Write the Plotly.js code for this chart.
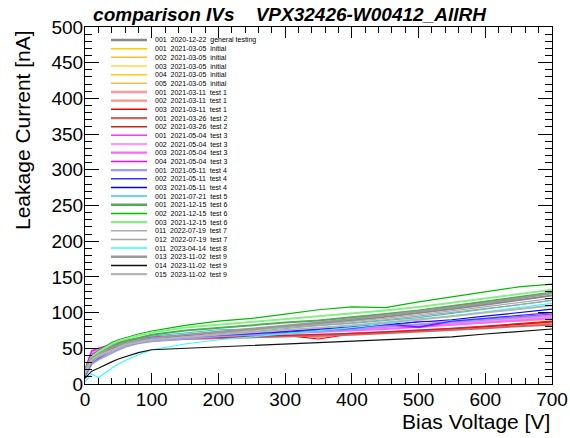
<!DOCTYPE html>
<html><head><meta charset="utf-8">
<script src="https://cdn.plot.ly/plotly-3.0.1.min.js"></script>
<style>html,body{margin:0;padding:0;background:#fff}#chart{width:570px;height:438px}</style>
</head><body><div id="chart"></div>
<script>
// Bias voltage grid [V]
const voltage = [0,10,20,30,40,50,60,80,100,150,200,250,300,350,400,450,500,550,600,650,700];

// Legend labels
const sensorIds = ["001","001","002","003","004","005","001","002","003","001","002","001","002","003","004","001","002","003","001","001","002","003","011","012","011","013","014","015"];
const testDates = ["2020-12-22","2021-03-05","2021-03-05","2021-03-05","2021-03-05","2021-03-05","2021-03-11","2021-03-11","2021-03-11","2021-03-26","2021-03-26","2021-05-04","2021-05-04","2021-05-04","2021-05-04","2021-05-11","2021-05-11","2021-05-11","2021-07-21","2021-12-15","2021-12-15","2021-12-15","2022-07-19","2022-07-19","2023-04-14","2023-11-02","2023-11-02","2023-11-02"];
const testNames = ["general testing","initial","initial","initial","initial","initial","test 1","test 1","test 1","test 2","test 2","test 3","test 3","test 3","test 3","test 4","test 4","test 4","test 5","test 6","test 6","test 6","test 7","test 7","test 8","test 9","test 9","test 9"];

// Leakage current [nA], one array per measurement
const gen001   = [15,33,40,45,49,53,56,60,63,68,72,76,80,84,89,94,99,105,111,117,124];
const ini001   = [14,36,43,48,52,55,58,62,64,67,69,71,73,75,77,80,83,85,88,91,93];
const ini002   = [12,34,41,46,50,54,57,61,63,66,68,70,72,74,76,79,82,84,87,89,92];
const ini003   = [16,38,44,49,53,56,59,63,65,68,70,72,74,76,78,81,84,86,89,92,94];
const ini004   = [13,35,42,47,51,55,58,62,64,66,68,70,71,73,75,78,80,83,86,88,90];
const ini005   = [15,37,43,48,52,56,59,62,65,67,69,71,73,75,77,79,82,85,87,90,92];
const t1_001   = [12,33,40,45,49,53,56,60,62,64,65,66,67,68,70,72,74,76,79,82,85];
const t1_002   = [14,35,42,47,51,54,57,61,63,65,66,67,68,66,71,73,75,77,80,83,86];
const t1_003   = [13,36,43,48,52,55,58,61,63,64,65,66,68,63,70,72,74,77,80,83,87];
const t2_001   = [11,32,39,44,48,52,55,59,61,63,64,65,67,68,69,71,73,76,78,81,83];
const t2_002   = [12,34,41,46,50,53,56,60,62,64,66,67,68,69,71,73,75,78,81,84,88];
const t3_001   = [20,47,50,53,56,58,60,63,65,67,69,71,73,75,77,80,88,86,90,94,97];
const t3_002   = [18,44,48,51,54,57,59,62,64,66,68,69,71,73,75,78,81,84,87,90,93];
const t3_003   = [17,42,46,50,53,56,58,61,63,65,67,69,70,72,74,77,80,83,86,89,92];
const t3_004   = [21,46,50,53,56,59,61,64,66,68,70,72,74,76,79,82,79,87,91,95,98];
const t4_001   = [10,28,34,39,44,48,52,57,60,64,67,69,71,74,77,80,83,86,89,92,96];
const t4_002   = [11,30,36,42,47,51,54,59,62,66,68,70,72,75,78,84,80,88,92,96,100];
const t4_003   = [12,31,38,43,48,52,55,60,63,67,69,71,74,77,80,83,86,90,95,100,105];
const t5_001   = [15,35,42,47,52,56,59,64,67,72,76,77,79,82,85,89,93,99,105,111,117];
const t6_001   = [15,36,43,48,53,57,60,65,69,75,79,82,86,89,93,98,103,109,115,122,128];
const t6_002   = [20,40,47,53,58,62,65,70,74,82,88,92,98,104,108,107,115,122,128,136,140];
const t6_003   = [18,38,45,51,56,60,63,68,72,79,83,87,91,94,98,103,108,114,120,127,132];
const t7_011   = [12,30,37,42,46,50,53,58,62,67,71,75,79,83,87,92,97,102,108,114,120];
const t7_012   = [14,32,38,43,47,51,54,58,61,65,69,73,77,81,85,90,95,100,106,111,117];
const t8_011   = [3,14,9,16,22,28,33,41,48,56,62,66,70,74,79,84,89,95,101,107,113];
const t9_013   = [18,36,42,47,51,54,57,61,64,69,73,77,82,86,91,96,101,107,113,120,127];
const t9_014   = [8,18,22,27,31,35,38,44,48,50,52,53,55,57,59,61,63,66,70,74,77];
const t9_015   = [16,34,40,44,48,52,55,59,62,66,69,72,75,78,82,86,90,95,100,105,110];

const currents = [gen001,ini001,ini002,ini003,ini004,ini005,t1_001,t1_002,t1_003,t2_001,t2_002,
  t3_001,t3_002,t3_003,t3_004,t4_001,t4_002,t4_003,t5_001,t6_001,t6_002,t6_003,t7_011,t7_012,t8_011,t9_013,t9_014,t9_015];

const lineColors = ["#888888","#ffcc00","#f5c030","#ffd84a","#ffcc11","#f0c050","#ff9999","#ff9090","#ff0000","#cc6666","#cc2222",
  "#ff33ff","#ff99ff","#ff66ff","#ff00ff","#9999ff","#3333ff","#0000ff","#33cccc","#55aa55","#00bb00","#88ee88",
  "#aaaaaa","#a5a5a5","#33ffff","#999999","#111111","#b5b5b5"];
const lineWidths = [2,1.2,1.2,1.2,1.2,1.2,2,2,1.2,2,1.2,1.2,2,2,1.2,2,1.2,1.2,1.2,2,1.2,2,1.2,1.2,1.2,2,1.2,2];

const FONT = "Liberation Sans, Arial, Helvetica, sans-serif";
const traces = currents.map((y, i) => ({
  x: voltage, y: y, type: "scatter", mode: "lines",
  line: {color: lineColors[i], width: lineWidths[i]},
  showlegend: false, hoverinfo: "skip"
}));

// plot-area pixel geometry
const L = 85, R = 18, T = 27, B = 54, W = 570, H = 438;
const pw = W - L - R, ph = H - T - B;
const px2x = p => (p - L) / pw;
const py2y = p => (H - B - p) / ph;

const shapes = [], annotations = [];
const nb = "\u00a0\u00a0";
currents.forEach((_, i) => {
  const py = 40 + i * 8.67;
  shapes.push({type: "line", xref: "paper", yref: "paper",
    x0: px2x(111), x1: px2x(147), y0: py2y(py), y1: py2y(py),
    line: {color: lineColors[i], width: lineWidths[i] + 0.3}});
  annotations.push({xref: "paper", yref: "paper", x: px2x(153), y: py2y(py),
    xanchor: "left", yanchor: "middle", showarrow: false,
    text: sensorIds[i] + nb + testDates[i] + nb + testNames[i],
    font: {family: FONT, size: 7, color: "#000"}});
});
annotations.push({xref: "paper", yref: "paper", x: 1, y: py2y(421), xanchor: "right", yanchor: "middle",
  showarrow: false, text: "Bias Voltage [V]", font: {family: FONT, size: 21, color: "#000"}});
annotations.push({xref: "paper", yref: "paper", x: px2x(22), y: py2y(28), xanchor: "center", yanchor: "top",
  textangle: -90, showarrow: false, text: "Leakage Current [nA]", font: {family: FONT, size: 21, color: "#000"}});

const layout = {
  width: W, height: H,
  margin: {l: L, r: R, t: T, b: B, pad: 0},
  paper_bgcolor: "#fff", plot_bgcolor: "#fff",
  title: {text: "comparison IVs\u00a0\u00a0\u00a0\u00a0VPX32426-W00412_AllRH",
    xref: "container", yref: "container", x: 289.5 / W, y: 1 - 14 / H, xanchor: "center", yanchor: "middle",
    font: {family: FONT, size: 19, weight: "bold", style: "italic", color: "#000"}},
  xaxis: {range: [0, 700], dtick: 100, tick0: 0, ticks: "inside", ticklen: 11, tickwidth: 1, tickcolor: "#000",
    minor: {dtick: 20, ticks: "inside", ticklen: 6, tickcolor: "#000", showgrid: false},
    showline: true, linecolor: "#000", linewidth: 1, mirror: "ticks", showgrid: false, zeroline: false,
    tickfont: {family: FONT, size: 19, color: "#000"}, ticklabelstandoff: -2},
  yaxis: {range: [0, 500], dtick: 50, tick0: 0, ticks: "inside", ticklen: 14, tickwidth: 1, tickcolor: "#000",
    minor: {dtick: 10, ticks: "inside", ticklen: 7, tickcolor: "#000", showgrid: false},
    showline: true, linecolor: "#000", linewidth: 1, mirror: "ticks", showgrid: false, zeroline: false,
    tickfont: {family: FONT, size: 19, color: "#000"}, ticklabelstandoff: -3},
  shapes: shapes, annotations: annotations, showlegend: false
};
Plotly.newPlot("chart", traces, layout, {displayModeBar: false, staticPlot: true});
</script></body></html>
